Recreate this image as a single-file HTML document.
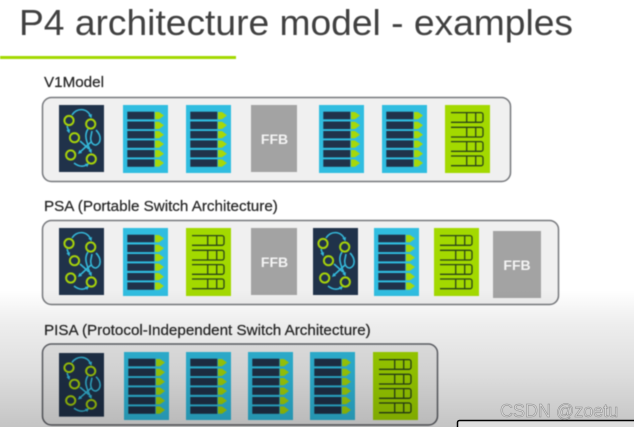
<!DOCTYPE html>
<html>
<head>
<meta charset="utf-8">
<style>
html,body{margin:0;padding:0;background:#fff}
body{width:634px;height:427px;overflow:hidden}
svg{display:block}
text{font-family:"Liberation Sans",sans-serif}
.lbl{font-size:15.2px;fill:#242424;stroke:#242424;stroke-width:.2px}
.ffbt{font-size:14px;font-weight:bold;fill:#f4f4f4}
</style>
</head>
<body>
<svg width="634" height="427" viewBox="0 0 634 427" xmlns="http://www.w3.org/2000/svg">
<defs>
<linearGradient id="shade" x1="0" y1="0" x2="0" y2="1">
<stop offset="0" stop-color="#000" stop-opacity="0"/>
<stop offset="0.25" stop-color="#000" stop-opacity="0.07"/>
<stop offset="0.6" stop-color="#000" stop-opacity="0.13"/>
<stop offset="1" stop-color="#000" stop-opacity="0.23"/>
</linearGradient>
<marker id="ah" markerWidth="4" markerHeight="4" refX="2.5" refY="2" orient="auto" markerUnits="userSpaceOnUse">
<path d="M0 0L4 2L0 4Z" fill="#35b7d8"/>
</marker>
<symbol id="parser" overflow="visible">
<rect width="45" height="67" fill="#20324a"/>
<g fill="none" stroke="#35b7d8" stroke-width="1.6">
<path d="M13 10C17 3 28 2 32 12" marker-end="url(#ah)"/>
<path d="M8 21L10 27" marker-end="url(#ah)"/>
<path d="M29 24C25 30 27 36 32 47" marker-end="url(#ah)"/>
<path d="M37 25C43 31 42 38 37 40C33 40 31 36 32 31L33 26"/>
<path d="M21 36L30 44"/>
<path d="M32 37L20 48" marker-end="url(#ah)"/>
<path d="M15 58C20 62 25 62 29 59" marker-end="url(#ah)"/>
</g>
<g fill="none" stroke="#a6d10b" stroke-width="2">
<circle cx="10" cy="15.5" r="4.6"/>
<circle cx="31.7" cy="19" r="4.6"/>
<circle cx="15.5" cy="32.7" r="4.6"/>
<circle cx="11.7" cy="50" r="4.6"/>
<circle cx="32.3" cy="54" r="4.6"/>
</g>
</symbol>
<symbol id="pipe" overflow="visible">
<rect width="45" height="68" fill="#30bde0"/>
<g fill="#20324a">
<rect x="4.3" y="6.7" width="27" height="7.6"/>
<rect x="4.3" y="16.5" width="27" height="7.6"/>
<rect x="4.3" y="26" width="27" height="7.4"/>
<rect x="4.3" y="35.4" width="27" height="7.4"/>
<rect x="4.3" y="45" width="27" height="7.4"/>
<rect x="4.3" y="54.4" width="27" height="7.4"/>
</g>
<g fill="#a6d80a">
<path d="M32 7H36L41 10.5L36 14.3H32Z"/>
<path d="M32 16.7H36L41 20.3L36 24H32Z"/>
<path d="M32 26H36L41 29.7L36 33.3H32Z"/>
<path d="M32 35.5H36L41 39L36 42.7H32Z"/>
<path d="M32 45H36L41 48.7L36 52.3H32Z"/>
<path d="M32 54.5H36L41 58L36 61.7H32Z"/>
</g>
</symbol>
<symbol id="table" overflow="visible">
<rect width="45" height="68" fill="#a3d900"/>
<g fill="none" stroke="#2a4418" stroke-width="1.3">
<path d="M6 7.6H36a2 2 0 0 1 2 2V15.3a2 2 0 0 1-2 2H6M21.7 7.6V17.3M30.7 7.6V17.3"/>
<path d="M6 22.3H36a2 2 0 0 1 2 2V30a2 2 0 0 1-2 2H6M21.7 22.3V32M30.7 22.3V32"/>
<path d="M6 36.6H36a2 2 0 0 1 2 2V44.3a2 2 0 0 1-2 2H6M21.7 36.6V46.3M30.7 36.6V46.3"/>
<path d="M6 51H36a2 2 0 0 1 2 2V58.7a2 2 0 0 1-2 2H6M21.7 51V60.7M30.7 51V60.7"/>
</g>
</symbol>
</defs>

<rect width="634" height="427" fill="#fff"/>

<g style="filter:blur(.45px)">
<text x="19" y="35" font-size="36.5" fill="#404040" textLength="554" lengthAdjust="spacingAndGlyphs">P4 architecture model - examples</text>
<rect x="0" y="56" width="236" height="3" fill="#a3d900"/>

<text class="lbl" x="44" y="87">V1Model</text>
<rect x="42.5" y="97.5" width="468" height="84" rx="9" fill="#f0f0f0" stroke="#76787c" stroke-width="1.5"/>
<use href="#parser" x="59" y="105"/>
<use href="#pipe" x="123" y="105"/>
<use href="#pipe" x="186" y="105"/>
<rect x="251" y="105" width="46" height="67" fill="#a3a3a3"/>
<text class="ffbt" x="274.5" y="144" text-anchor="middle">FFB</text>
<use href="#pipe" x="319" y="105"/>
<use href="#pipe" x="382" y="105"/>
<use href="#table" x="445" y="105"/>

<text class="lbl" x="44" y="211">PSA (Portable Switch Architecture)</text>
<rect x="42.5" y="220.5" width="516" height="84" rx="9" fill="#f0f0f0" stroke="#76787c" stroke-width="1.5"/>
<use href="#parser" x="59" y="228"/>
<use href="#pipe" x="123" y="228"/>
<use href="#table" x="186" y="228"/>
<rect x="251" y="228" width="46" height="67" fill="#a3a3a3"/>
<text class="ffbt" x="274.5" y="267" text-anchor="middle">FFB</text>
<use href="#parser" x="313" y="228"/>
<use href="#pipe" x="374" y="228"/>
<use href="#table" x="434" y="228"/>
<rect x="493" y="231" width="48" height="67" fill="#a3a3a3"/>
<text class="ffbt" x="517" y="270" text-anchor="middle">FFB</text>

<text class="lbl" x="44" y="335">PISA (Protocol-Independent Switch Architecture)</text>
<rect x="42.5" y="344" width="395" height="81" rx="9" fill="#f0f0f0" stroke="#62646a" stroke-width="1.5"/>
<use href="#parser" transform="translate(59 353) scale(1 .95)"/>
<use href="#pipe" x="124" y="352"/>
<use href="#pipe" x="186" y="352"/>
<use href="#pipe" x="248" y="352"/>
<use href="#pipe" x="310" y="352"/>
<use href="#table" x="373" y="352"/>
</g>

<rect x="0" y="290" width="634" height="137" fill="url(#shade)"/>

<rect x="457.5" y="420.5" width="180" height="12" rx="2" fill="#dedede" stroke="#000" stroke-width="1.5"/>
<text x="500" y="417" font-size="18" fill="#d8d8d8" stroke="#8a8a8a" stroke-width="0.5">CSDN @zoetu</text>
</svg>
</body>
</html>
